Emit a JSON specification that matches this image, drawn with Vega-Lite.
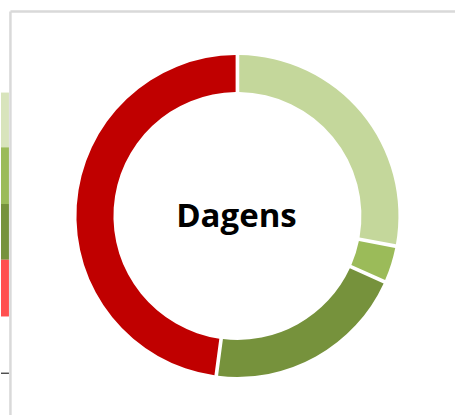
{
  "$schema": "https://vega.github.io/schema/vega-lite/v6.json",
  "width": 457,
  "height": 417,
  "autosize": {"type": "fit", "contains": "padding"},
  "padding": 0,
  "background": "white",
  "config": {"view": {"stroke": null}},
  "datasets": {
    "ring": [
      {"category": "A", "order": 1, "share": 28.0, "cx": 238, "cy": 217},
      {"category": "B", "order": 2, "share": 3.7, "cx": 238, "cy": 217},
      {"category": "C", "order": 3, "share": 20.4, "cx": 238, "cy": 217},
      {"category": "D", "order": 4, "share": 47.9, "cx": 238, "cy": 217}
    ],
    "strip": [
      {"band": "A", "x0": 0, "x1": 8, "y0": 93, "y1": 148},
      {"band": "B", "x0": 0, "x1": 8, "y0": 148, "y1": 205},
      {"band": "C", "x0": 0, "x1": 8, "y0": 205, "y1": 261},
      {"band": "D", "x0": 0, "x1": 8, "y0": 261, "y1": 318}
    ],
    "borders": [
      {"x0": 9.5, "x1": 9.5, "y0": 11.5, "y1": 417},
      {"x0": 9.5, "x1": 457, "y0": 11.5, "y1": 11.5}
    ],
    "blackline": [
      {"x0": 0, "x1": 8, "y0": 375, "y1": 375}
    ],
    "label": [
      {"text": "Dagens", "x": 237, "y": 228}
    ]
  },
  "layer": [
    {
      "data": {"name": "borders"},
      "mark": {"type": "rule", "color": "#D9D9D9", "strokeWidth": 2.5},
      "encoding": {
        "x": {"field": "x0", "type": "quantitative", "scale": {"domain": [0, 457], "nice": false, "zero": false}, "axis": null},
        "x2": {"field": "x1"},
        "y": {"field": "y0", "type": "quantitative", "scale": {"domain": [0, 417], "nice": false, "zero": false, "reverse": true}, "axis": null},
        "y2": {"field": "y1"}
      }
    },
    {
      "data": {"name": "strip"},
      "mark": {"type": "rect"},
      "encoding": {
        "x": {"field": "x0", "type": "quantitative"},
        "x2": {"field": "x1"},
        "y": {"field": "y0", "type": "quantitative"},
        "y2": {"field": "y1"},
        "color": {"field": "band", "type": "nominal", "scale": {"domain": ["A", "B", "C", "D"], "range": ["#D8E4BC", "#9BBB59", "#76923C", "#FF4F4F"]}, "legend": null}
      }
    },
    {
      "data": {"name": "blackline"},
      "mark": {"type": "rule", "color": "#000000", "strokeWidth": 1},
      "encoding": {
        "x": {"field": "x0", "type": "quantitative"},
        "x2": {"field": "x1"},
        "y": {"field": "y0", "type": "quantitative"},
        "y2": {"field": "y1"}
      }
    },
    {
      "data": {"name": "ring"},
      "mark": {"type": "arc", "radius": 161, "radius2": 124, "padAngle": 0.018},
      "encoding": {
        "theta": {"field": "share", "type": "quantitative", "stack": true},
        "order": {"field": "order", "type": "quantitative"},
        "x": {"field": "cx", "type": "quantitative"},
        "y": {"field": "cy", "type": "quantitative"},
        "fill": {"field": "category", "type": "nominal", "scale": {"domain": ["A", "B", "C", "D"], "range": ["#C4D79B", "#9BBB59", "#76923C", "#C00000"]}, "legend": null}
      }
    },
    {
      "data": {"name": "label"},
      "mark": {"type": "text", "font": "Open Sans", "fontWeight": "bold", "fontSize": 33, "color": "#000000", "align": "center", "baseline": "alphabetic"},
      "encoding": {
        "x": {"field": "x", "type": "quantitative"},
        "y": {"field": "y", "type": "quantitative"},
        "text": {"field": "text", "type": "nominal"}
      }
    }
  ],
  "resolve": {"scale": {"color": "independent"}}
}
